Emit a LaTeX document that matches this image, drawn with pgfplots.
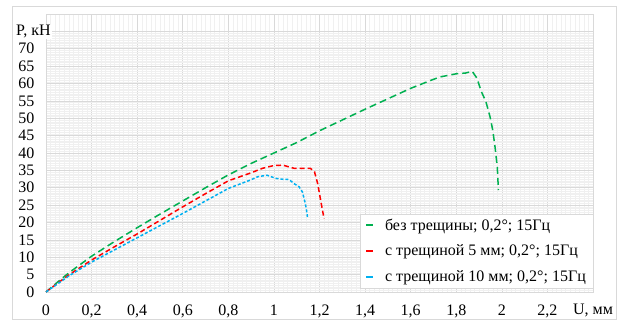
\documentclass[border=0pt]{standalone}
\usepackage{fontspec}
\setmainfont{Liberation Serif}
\usepackage{pgfplots}
\pgfplotsset{compat=1.18}
\definecolor{cgreen}{HTML}{00B050}
\definecolor{cred}{HTML}{FF0000}
\definecolor{cblue}{HTML}{00B0F0}
\definecolor{gmaj}{HTML}{D9D9D9}
\definecolor{gmin}{HTML}{F0F0F0}
\begin{document}
\begin{tikzpicture}[font=\fontsize{16bp}{19bp}\selectfont]
\useasboundingbox (0bp,0bp) rectangle (625bp,320bp);
\draw[gmaj, line width=0.8bp] (12.5bp,1bp) rectangle (616.5bp,314bp);
\begin{axis}[
  at={(46bp,28bp)}, anchor=south west,
  scale only axis, width=547bp, height=278bp,
  xmin=0, xmax=2.4, ymin=0, ymax=80,
  clip=false,
  xtick={0,0.2,0.4,0.6,0.8,1,1.2,1.4,1.6,1.8,2,2.2,2.4},
  xticklabels={0,{0,2},{0,4},{0,6},{0,8},1,{1,2},{1,4},{1,6},{1,8},2,{2,2},{U, мм}},
  ytick={0,5,10,15,20,25,30,35,40,45,50,55,60,65,70,75},
  yticklabels={0,5,10,15,20,25,30,35,40,45,50,55,60,65,70,{}},
  minor x tick num=9, minor y tick num=9,
  grid=both,
  major grid style={gmaj, line width=0.6bp},
  minor grid style={gmin, line width=0.4bp},
  major tick length=0pt, minor tick length=0pt,
  axis line style={gmaj, line width=0.6bp},
  xticklabel style={yshift=-9bp},
  yticklabel style={xshift=-8bp},
  legend cell align=left,
  legend style={at={(rel axis cs:1,0)}, anchor=south east, yshift=4bp,
    draw=gmaj, fill=white, inner xsep=5bp, inner ysep=3bp, row sep=9bp, column sep=9bp},
  legend image code/.code={\draw[#1, line width=2bp] (0bp,0bp) -- (7bp,0bp);},
]
\addlegendimage{cgreen}
\addlegendentry{без трещины; 0,2°; 15Гц}
\addlegendimage{cred}
\addlegendentry{с трещиной 5 мм; 0,2°; 15Гц}
\addlegendimage{cblue}
\addlegendentry{с трещиной 10 мм; 0,2°; 15Гц}
\addplot[forget plot, cgreen, line width=1.5bp, dash pattern=on 7bp off 4bp] coordinates {
(0,0) (0.05,2.8) (0.1,5.5) (0.2,10.3) (0.3,14.5) (0.4,18.5) (0.5,22.4) (0.6,26.2)
(0.7,30.0) (0.8,33.7) (0.9,37.0) (1.0,40.0) (1.1,43.0) (1.2,46.4) (1.3,49.5)
(1.4,52.6) (1.5,55.6) (1.6,58.6) (1.7,61.2) (1.73,61.9) (1.8,62.8) (1.84,63.0)
(1.87,63.5) (1.89,61.6) (1.91,57.7) (1.93,54.8) (1.948,50.5) (1.96,46.6)
(1.97,41.8) (1.98,36) (1.985,29.3)
};
\addplot[forget plot, cred, line width=1.5bp, dash pattern=on 5bp off 3bp] coordinates {
(0,0) (0.05,2.5) (0.1,4.9) (0.2,9.2) (0.3,13.0) (0.4,16.7) (0.5,20.6) (0.6,24.5)
(0.7,28.3) (0.8,32.0) (0.9,34.3) (0.95,35.6) (1.0,36.4) (1.04,36.5) (1.066,36.0)
(1.088,35.6) (1.125,35.6) (1.16,35.6) (1.178,34.6) (1.192,31.2) (1.205,26.4)
(1.22,21.1)
};
\addplot[forget plot, cblue, line width=1.5bp, dash pattern=on 3bp off 2bp] coordinates {
(0,0) (0.05,2.3) (0.1,4.6) (0.2,8.6) (0.3,12.1) (0.4,15.6) (0.5,19.1) (0.6,22.6)
(0.7,26.2) (0.8,29.8) (0.9,32.3) (0.93,33.2) (0.97,33.6) (1.008,32.7) (1.044,32.4)
(1.066,32.4) (1.088,31.2) (1.11,30.3) (1.125,28.8) (1.136,25.9) (1.142,24.0)
(1.147,21.6)
};
\node[fill=white, inner sep=1bp, anchor=west, xshift=-31bp] at (axis cs:0,75) {P, кН};
\end{axis}
\end{tikzpicture}
\end{document}
